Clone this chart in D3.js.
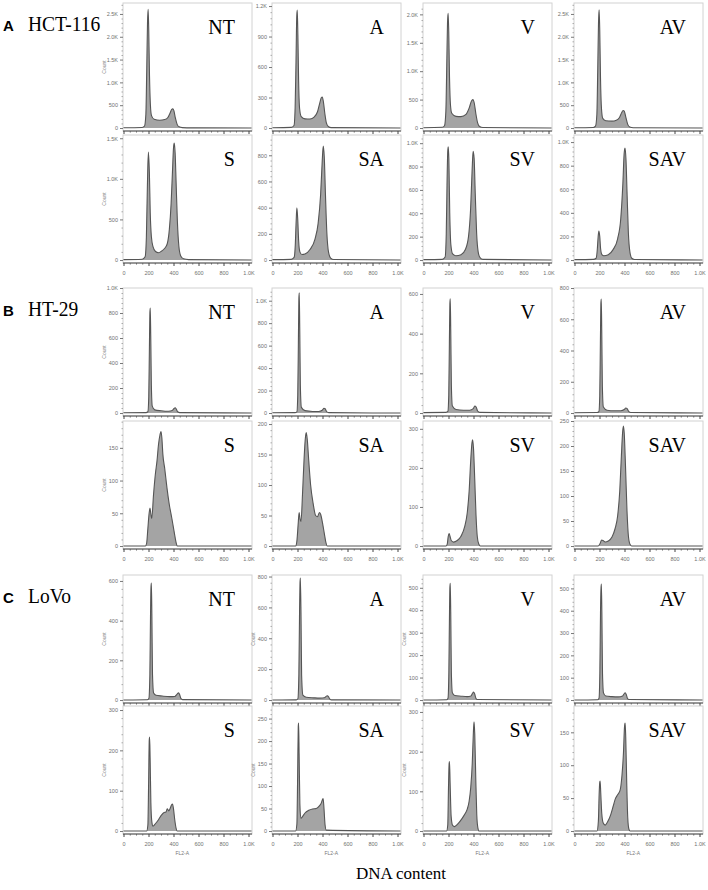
<!DOCTYPE html>
<html>
<head>
<meta charset="utf-8">
<script src="https://cdn.jsdelivr.net/npm/d3@7"></script>
<style>
  body { margin: 0; background: #fff; }
  svg { display: block; }
</style>
</head>
<body>
<svg width="708" height="890"></svg>
<script>
  // ---- data ----
  var panelLetters = ['A', 'B', 'C'];
  var cellLines = ['HCT-116', 'HT-29', 'LoVo'];
  var treatments = ['NT', 'A', 'V', 'AV', 'S', 'SA', 'SV', 'SAV'];
  var dnaTicks = [0, 200, 400, 600, 800, 1000];
  var dnaTickLabels = ['0', '200', '400', '600', '800', '1.0K'];

  // y axis: [max of axis, tick step] per histogram, same order as treatments
  var hctAxes = [[2740, 500], [1230, 300], [2200, 500], [2740, 500], [1540, 500], [955, 200], [1070, 200], [1060, 200]];
  var htAxes = [[1000, 200], [1113, 200], [630, 200], [800, 200], [191, 50], [205, 50], [320, 100], [250, 50]];
  var lovoAxes = [[630, 200], [810, 200], [557, 100], [560, 100], [310, 100], [278, 50], [315, 100], [190, 50]];

  // histograms as [DNA content, count]
  var hctNT = [[0,5],[150,12],[168,40],[179,300],[186,1300],[192,2300],[197,2600],[202,2150],[208,1150],[215,520],[224,270],[245,190],[290,170],[330,185],[355,230],[373,330],[386,410],[394,420],[403,380],[415,220],[429,80],[445,25],[470,8],[550,3],[1024,0]];
  var hctA = [[0,3],[150,6],[172,25],[181,200],[188,650],[194,1100],[198,1160],[203,920],[209,460],[217,190],[230,112],[260,90],[300,88],[335,110],[360,160],[378,245],[391,300],[398,305],[407,260],[419,140],[431,50],[446,15],[470,4],[1024,0]];
  var hctV = [[0,5],[150,12],[168,40],[179,300],[186,1100],[192,1850],[197,2020],[202,1700],[208,900],[216,400],[226,260],[260,205],[300,200],[340,240],[365,350],[384,475],[395,500],[406,440],[419,250],[433,90],[449,25],[475,8],[1024,0]];
  var hctAV = [[0,5],[150,10],[168,40],[179,300],[186,1300],[192,2300],[197,2590],[202,2150],[208,1100],[216,420],[226,210],[250,160],[300,150],[335,170],[360,230],[377,335],[389,385],[398,372],[410,245],[425,85],[442,22],[470,6],[1024,0]];
  var hctS = [[0,5],[150,10],[173,40],[183,280],[191,900],[199,1330],[207,1080],[214,580],[223,290],[236,165],[256,105],[280,90],[305,110],[330,145],[350,200],[367,380],[381,700],[392,1100],[400,1380],[406,1440],[413,1320],[421,950],[431,480],[443,170],[458,50],[480,15],[520,5],[1024,0]];
  var hctSA = [[0,3],[150,5],[173,20],[182,110],[189,290],[195,398],[202,310],[209,150],[219,62],[235,42],[260,46],[300,80],[340,160],[365,280],[385,500],[398,760],[406,870],[414,790],[424,490],[435,205],[448,62],[465,15],[490,4],[1024,0]];
  var hctSV = [[0,3],[150,5],[173,25],[182,220],[188,640],[194,930],[198,970],[203,860],[210,400],[219,130],[233,52],[260,36],[300,45],[335,90],[360,200],[377,440],[389,770],[397,930],[405,870],[414,570],[425,230],[437,72],[452,20],[475,5],[1024,0]];
  var hctSAV = [[0,3],[150,5],[173,15],[182,85],[189,195],[195,245],[202,200],[209,95],[219,46],[235,36],[270,45],[310,90],[345,180],[370,350],[387,650],[397,900],[404,950],[412,850],[421,550],[431,230],[443,70],[458,15],[480,4],[1024,0]];

  var htNT = [[0,2],[180,3],[195,10],[202,130],[207,500],[211,800],[214,840],[218,620],[223,220],[230,55],[250,25],[300,18],[360,14],[390,20],[404,36],[413,42],[422,32],[433,10],[450,3],[1024,0]];
  var htA = [[0,2],[180,3],[195,10],[202,160],[207,620],[211,1020],[214,1070],[218,760],[223,240],[231,50],[260,21],[320,14],[370,14],[398,25],[412,42],[421,38],[433,12],[450,3],[1024,0]];
  var htV = [[0,2],[180,3],[195,8],[202,90],[207,350],[211,550],[214,575],[218,420],[223,140],[231,35],[260,18],[320,14],[370,14],[398,22],[410,35],[421,30],[433,10],[450,3],[1024,0]];
  var htAV = [[0,2],[180,3],[195,8],[202,110],[207,440],[211,700],[214,730],[218,530],[223,170],[231,38],[260,18],[320,14],[370,14],[398,22],[410,32],[421,28],[433,10],[450,3],[1024,0]];
  var htS = [[0,0],[175,0],[185,4],[195,27],[205,50],[212,58],[218,50],[226,42],[240,78],[255,110],[268,130],[280,155],[292,170],[300,175],[307,165],[315,140],[330,118],[347,90],[365,65],[387,42],[405,22],[420,6],[430,0],[1024,0]];
  var htSA = [[0,0],[185,0],[195,8],[205,35],[213,55],[220,45],[228,40],[240,85],[252,140],[262,175],[270,186],[278,175],[290,140],[305,100],[325,70],[345,50],[360,48],[375,55],[385,52],[400,38],[415,20],[428,5],[438,0],[1024,0]];
  var htSV = [[0,0],[180,0],[190,5],[198,25],[205,32],[212,25],[222,14],[240,10],[270,14],[300,25],[330,50],[350,85],[365,140],[378,220],[388,265],[393,272],[400,250],[410,170],[420,80],[430,25],[442,5],[455,0],[1024,0]];
  var htSAV = [[0,0],[190,0],[205,5],[217,12],[228,11],[245,8],[270,10],[300,18],[325,35],[345,60],[362,110],[375,180],[385,228],[391,240],[398,225],[408,160],[420,70],[432,18],[445,3],[458,0],[1024,0]];

  var lovoNT = [[0,0],[190,1],[203,8],[211,130],[216,420],[220,570],[223,590],[227,430],[232,130],[241,35],[260,24],[310,20],[370,17],[410,18],[429,30],[440,36],[449,28],[459,8],[472,2],[1024,0]];
  var lovoA = [[0,0],[190,1],[203,8],[211,170],[216,540],[220,760],[223,790],[228,560],[233,160],[243,32],[270,18],[330,14],[380,12],[415,15],[432,25],[440,28],[449,20],[459,6],[472,1],[1024,0]];
  var lovoV = [[0,0],[185,1],[196,8],[203,130],[208,390],[211,500],[214,520],[218,390],[223,120],[231,32],[250,20],[300,17],[350,15],[380,18],[392,30],[400,35],[409,28],[419,8],[430,2],[1024,0]];
  var lovoAV = [[0,0],[185,1],[196,8],[203,130],[208,390],[212,500],[215,520],[219,390],[224,120],[232,32],[250,18],[300,15],[350,14],[385,18],[397,28],[405,32],[414,25],[423,8],[435,2],[1024,0]];
  var lovoS = [[0,0],[185,0],[195,15],[201,120],[206,225],[209,233],[213,180],[219,70],[227,22],[236,12],[255,18],[280,28],[305,40],[325,46],[340,47],[350,55],[362,50],[372,55],[385,65],[392,67],[400,55],[410,28],[420,8],[430,0],[1024,0]];
  var lovoSA = [[0,0],[185,0],[195,15],[201,120],[206,232],[209,240],[213,170],[219,60],[227,28],[240,32],[260,40],[290,46],[320,49],[350,50],[375,56],[390,62],[400,70],[405,72],[412,50],[420,15],[430,2],[1024,0]];
  var lovoSV = [[0,0],[185,0],[194,15],[200,110],[205,170],[208,175],[213,120],[221,38],[233,14],[248,11],[275,18],[305,30],[330,42],[350,55],[365,75],[378,110],[390,170],[398,240],[404,275],[410,245],[418,135],[426,42],[435,8],[445,0],[1024,0]];
  var lovoSAV = [[0,0],[180,0],[191,15],[197,55],[202,74],[205,76],[210,58],[218,27],[230,12],[245,9],[265,14],[290,25],[310,38],[325,48],[345,55],[365,62],[380,85],[392,120],[400,158],[405,164],[410,142],[418,72],[426,20],[435,3],[445,0],[1024,0]];

  var panelData = [
    [hctNT, hctA, hctV, hctAV, hctS, hctSA, hctSV, hctSAV],
    [htNT, htA, htV, htAV, htS, htSA, htSV, htSAV],
    [lovoNT, lovoA, lovoV, lovoAV, lovoS, lovoSA, lovoSV, lovoSAV]
  ];
  var panelAxes = [hctAxes, htAxes, lovoAxes];

  // which plots carry the "Count" title
  var countShown = [
    [1, 0, 0, 0, 1, 0, 0, 0],
    [1, 0, 0, 0, 1, 0, 0, 0],
    [1, 1, 1, 0, 1, 1, 1, 0]
  ];

  // ---- layout ----
  var svg = d3.select('svg');
  var colX = [123, 272, 423, 574];
  var panelTop = [3, 288, 575];
  var rowStep = [132, 133, 131];
  var frameW = 129, frameH = 128;
  var serif = "'Liberation Serif', 'Times New Roman', serif";
  var sans = "'Liberation Sans', Arial, sans-serif";

  function kFormat(v) {
    return v >= 1000 ? (v / 1000).toFixed(1) + 'K' : String(v);
  }

  panelData.forEach(function (hists, p) {
    var top = panelTop[p];

    svg.append('text')
      .attr('x', 3).attr('y', top + 28)
      .attr('font-family', sans).attr('font-weight', 'bold')
      .attr('font-size', 15)
      .text(panelLetters[p]);

    svg.append('text')
      .attr('transform', 'translate(28,' + (top + 28) + ') scale(1,1.12)')
      .attr('font-family', serif).attr('font-size', 19.5)
      .text(cellLines[p]);

    hists.forEach(function (data, i) {
      var row = Math.floor(i / 4), col = i % 4;
      var x0 = colX[col];
      var y0 = top + row * rowStep[p];
      var yMax = panelAxes[p][i][0], step = panelAxes[p][i][1];

      var x = d3.scaleLinear().domain([0, 1024]).range([x0 + 0.5, x0 + frameW - 0.5]);
      var y = d3.scaleLinear().domain([0, yMax]).range([y0 + frameH - 3, y0]);

      var g = svg.append('g');

      g.append('rect')
        .attr('x', x0).attr('y', y0)
        .attr('width', frameW).attr('height', frameH)
        .attr('fill', 'none').attr('stroke', '#d2d2d2').attr('stroke-width', 1);

      var area = d3.area()
        .x(function (d) { return x(d[0]); })
        .y0(y(0))
        .y1(function (d) { return y(d[1]); })
        .curve(d3.curveMonotoneX);
      var line = d3.line()
        .x(function (d) { return x(d[0]); })
        .y(function (d) { return y(d[1]); })
        .curve(d3.curveMonotoneX);

      g.append('path').datum(data)
        .attr('d', area)
        .attr('fill', '#a4a4a4');
      g.append('path').datum(data)
        .attr('d', line)
        .attr('fill', 'none').attr('stroke', '#555').attr('stroke-width', 1.1);

      // y axis, majors and minors
      var majors = d3.range(0, yMax + 1, step);
      var minors = d3.range(0, yMax, step / 5).filter(function (v) { return v % step !== 0; });

      var yAxis = g.append('g')
        .attr('transform', 'translate(' + x0 + ',0)')
        .call(d3.axisLeft(y).tickValues(majors).tickSize(3).tickPadding(2).tickFormat(kFormat));
      yAxis.select('.domain').remove();
      yAxis.selectAll('line').attr('stroke', '#777');
      yAxis.selectAll('text').attr('font-size', 5.5).attr('fill', '#707070').attr('font-family', sans);

      g.append('g')
        .attr('transform', 'translate(' + x0 + ',0)')
        .call(d3.axisLeft(y).tickValues(minors).tickSize(1.5).tickFormat(''))
        .call(function (s) { s.select('.domain').remove(); })
        .selectAll('line').attr('stroke', '#aaa');

      // x axis at the bottom of the frame
      var xAxis = g.append('g')
        .attr('transform', 'translate(0,' + (y0 + frameH) + ')')
        .call(d3.axisBottom(x).tickValues(dnaTicks).tickSize(3).tickPadding(5)
          .tickFormat(function (d, k) { return row === 1 ? dnaTickLabels[k] : ''; }));
      xAxis.select('.domain').attr('d', 'M' + x0 + ',0H' + (x0 + frameW)).attr('stroke', '#444');
      xAxis.selectAll('line').attr('stroke', '#444');
      xAxis.selectAll('text').attr('font-size', 5.5).attr('fill', '#707070').attr('font-family', sans);

      g.append('g')
        .attr('transform', 'translate(0,' + (y0 + frameH) + ')')
        .call(d3.axisBottom(x).tickValues(d3.range(50, 1024, 50).filter(function (v) { return v % 200 !== 0; }))
          .tickSize(1.5).tickFormat(''))
        .call(function (s) { s.select('.domain').remove(); })
        .selectAll('line').attr('stroke', '#666');

      if (countShown[p][i]) {
        g.append('text')
          .attr('transform', 'translate(' + (x0 - 17) + ',' + (y0 + frameH / 2) + ') rotate(-90)')
          .attr('text-anchor', 'middle')
          .attr('font-size', 5).attr('fill', '#888').attr('font-family', sans)
          .text('Count');
      }

      if (p === 2 && row === 1) {
        g.append('text')
          .attr('x', x(470)).attr('y', y0 + frameH + 21)
          .attr('text-anchor', 'middle')
          .attr('font-size', 5).attr('fill', '#777').attr('font-family', sans)
          .text('FL2-A');
      }

      g.append('text')
        .attr('transform', 'translate(' + (x0 + frameW - 17) + ',' + (y0 + 31) + ') scale(1,1.1)')
        .attr('text-anchor', 'end')
        .attr('font-family', serif).attr('font-size', 20)
        .text(treatments[i]);
    });
  });

  svg.append('text')
    .attr('x', 401).attr('y', 879)
    .attr('text-anchor', 'middle')
    .attr('font-family', serif).attr('font-size', 17)
    .text('DNA content');
</script>
</body>
</html>
